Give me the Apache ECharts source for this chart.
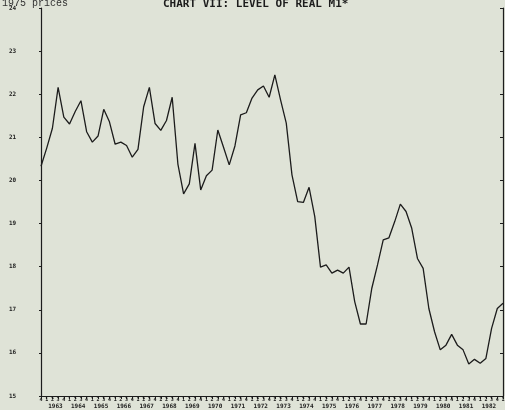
<!DOCTYPE html>
<html>
<head>
<meta charset="utf-8">
<script src="https://cdn.jsdelivr.net/npm/echarts@6/dist/echarts.min.js"></script>
<style>
  html, body { margin: 0; padding: 0; background: #dfe3d7; }
  #chart { width: 505px; height: 410px; }
</style>
</head>
<body>
<div id="chart"></div>
<script>
// Real M1, quarterly, 1975 prices (£ billion)
const startYear = 1962;
const startQuarter = 4;            // series opens in 1962 Q4
const quarterCount = 82;           // 1962 Q4 .. 1983 Q1
const labelledYears = [1963, 1982]; // first and last year printed under the axis
const realM1 = [
  20.33, 20.75, 21.21, 22.16, 21.47, 21.31, 21.60, 21.85,
  21.13, 20.89, 21.03, 21.65, 21.36, 20.84, 20.89, 20.81,
  20.54, 20.72, 21.71, 22.16, 21.32, 21.16, 21.39, 21.93,
  20.38, 19.69, 19.92, 20.86, 19.78, 20.11, 20.24, 21.17,
  20.77, 20.36, 20.80, 21.52, 21.57, 21.91, 22.10, 22.19,
  21.93, 22.45, 21.87, 21.33, 20.13, 19.51, 19.49, 19.84,
  19.16, 17.99, 18.04, 17.85, 17.92, 17.85, 17.99, 17.19,
  16.67, 16.67, 17.50, 18.04, 18.62, 18.67, 19.04, 19.45,
  19.28, 18.89, 18.19, 17.96, 17.03, 16.49, 16.07, 16.18,
  16.43, 16.18, 16.07, 15.74, 15.85, 15.76, 15.87, 16.57,
  17.03, 17.15
];
const yTicks = [15, 16, 17, 18, 19, 20, 21, 22, 23, 24];

// category keys "YYYY-Q"
const quarters = [];
for (let i = 0; i < quarterCount; i++) {
  const k = startQuarter - 1 + i;
  quarters.push((startYear + Math.floor(k / 4)) + '-' + (k % 4 + 1));
}

const ink = '#1c1c1c';
const chart = echarts.init(document.getElementById('chart'), null, { renderer: 'canvas' });

chart.setOption({
  backgroundColor: '#dfe3d7',
  animation: false,
  title: [
    {
      text: 'CHART VII: LEVEL OF REAL M1*',
      left: 158, top: -6,
      textStyle: { fontFamily: 'DejaVu Sans Mono', fontWeight: 'bold', fontSize: 11, color: ink }
    },
    {
      text: '1975 prices',
      left: -3, top: -7,
      textStyle: { fontFamily: 'Liberation Mono', fontWeight: 'normal', fontSize: 10, color: '#333' }
    }
  ],
  grid: { left: 41, right: 2, top: 8, bottom: 14, outerBoundsMode: 'none' },
  xAxis: [
    {
      type: 'category',
      data: quarters,
      boundaryGap: false,
      axisLine: { lineStyle: { color: ink, width: 1.2 } },
      axisTick: { interval: 0, length: 3, lineStyle: { color: ink } },
      axisLabel: {
        interval: 0, margin: 1, fontSize: 5, fontFamily: 'DejaVu Sans Mono', fontWeight: 'bold',
        color: ink, hideOverlap: false,
        formatter: v => v.split('-')[1]
      },
      splitLine: { show: false }
    },
    {
      type: 'category',
      data: quarters,
      boundaryGap: false,
      position: 'bottom',
      axisLine: { show: false },
      axisTick: { show: false },
      axisLabel: {
        interval: 0, margin: 7, fontSize: 6, fontFamily: 'DejaVu Sans Mono', fontWeight: 'bold',
        color: ink, hideOverlap: false, padding: [0, 0, 0, 6],
        formatter: v => {
          const [y, q] = v.split('-');
          const yr = +y;
          return (q === '2' && yr >= labelledYears[0] && yr <= labelledYears[1]) ? y : '';
        }
      }
    }
  ],
  yAxis: [
    {
      type: 'value', min: yTicks[0], max: yTicks[yTicks.length - 1], interval: 1,
      axisLine: { show: true, lineStyle: { color: ink, width: 1.2 } },
      axisTick: { show: true, length: 2, lineStyle: { color: ink } },
      axisLabel: {
        align: 'left', margin: 32, fontSize: 6, fontFamily: 'DejaVu Sans Mono', fontWeight: 'bold', color: ink
      },
      splitLine: { show: false }
    },
    {
      type: 'value', position: 'right', min: yTicks[0], max: yTicks[yTicks.length - 1], interval: 1,
      axisLine: { show: true, lineStyle: { color: ink, width: 1.2 } },
      axisTick: { show: true, inside: true, length: 3, lineStyle: { color: ink } },
      axisLabel: { show: false },
      splitLine: { show: false }
    }
  ],
  series: [
    {
      type: 'line',
      data: realM1,
      xAxisIndex: 0,
      yAxisIndex: 0,
      symbol: 'none',
      lineStyle: { color: ink, width: 1.3 }
    }
  ]
});
</script>
</body>
</html>
